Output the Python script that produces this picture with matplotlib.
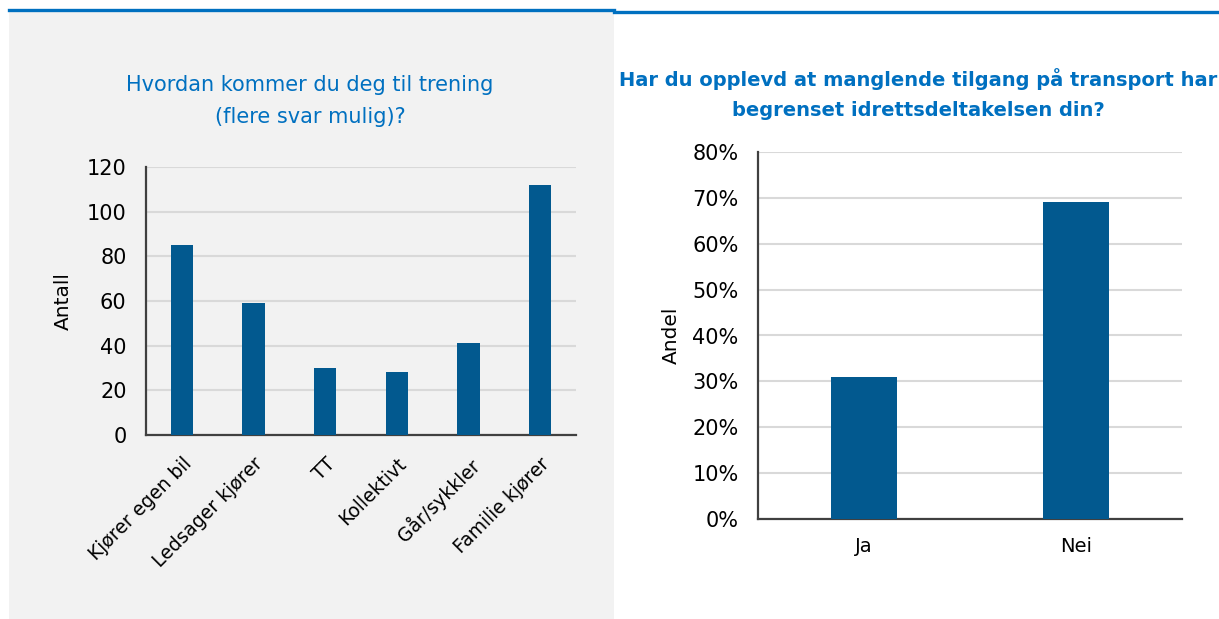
import matplotlib.pyplot as plt
from matplotlib.patches import Rectangle
from matplotlib.lines import Line2D
from matplotlib.ticker import FuncFormatter

# Data
transport_modes = ['Kjører egen bil', 'Ledsager kjører', 'TT', 'Kollektivt', 'Går/sykkler', 'Familie kjører']
transport_counts = [85, 59, 30, 28, 41, 112]

answers = ['Ja', 'Nei']
answer_shares = [31, 69]

left_title = 'Hvordan kommer du deg til trening\n(flere svar mulig)?'
right_title = 'Har du opplevd at manglende tilgang på transport har\nbegrenset idrettsdeltakelsen din?'

BAR = '#02598f'
TITLE_BLUE = '#0070c0'
AXIS = '#404040'
GRID = '#d9d9d9'
PANEL = '#f2f2f2'

plt.rcParams['font.family'] = ['DejaVu Sans']

W, H = 1219, 619
fig = plt.figure(figsize=(W / 100, H / 100), dpi=100)


def fx(px):
    return px / W


def fy(py):
    return 1 - py / H


# grey background behind the left chart, and blue top rules
fig.patches.append(Rectangle((fx(9), 0), fx(614) - fx(9), fy(11), transform=fig.transFigure,
                             facecolor=PANEL, edgecolor='none', zorder=-5))
fig.lines.append(Line2D([fx(9), fx(614)], [fy(9.5), fy(9.5)], transform=fig.transFigure,
                        color=TITLE_BLUE, lw=2.4))
fig.lines.append(Line2D([fx(614), fx(1219)], [fy(11.5), fy(11.5)], transform=fig.transFigure,
                        color=TITLE_BLUE, lw=2.4))


def style_axes(ax):
    ax.set_facecolor('none')
    for s in ['top', 'right']:
        ax.spines[s].set_visible(False)
    for s in ['left', 'bottom']:
        ax.spines[s].set_color(AXIS)
        ax.spines[s].set_linewidth(1.6)
    ax.grid(axis='y', color=GRID, lw=1.5)
    ax.set_axisbelow(True)
    ax.tick_params(axis='both', length=0, labelsize=15, colors='black')
    ax.tick_params(axis='y', pad=14)


# Left chart
ax1 = fig.add_axes([fx(146), fy(435), fx(576) - fx(146), fy(167) - fy(435)])
style_axes(ax1)
x1 = range(len(transport_modes))
ax1.bar(x1, transport_counts, width=0.31, color=BAR, zorder=3)
ax1.set_xlim(-0.5, len(transport_modes) - 0.5)
ax1.set_ylim(0, 120)
ax1.set_yticks(range(0, 121, 20))
ax1.set_xticks(list(x1))
ax1.set_xticklabels(transport_modes, rotation=45, ha='right', va='top',
                    rotation_mode='anchor', fontsize=13.5)
ax1.tick_params(axis='x', pad=14)
ax1.set_ylabel('Antall', fontsize=14.5, labelpad=10)
fig.text(fx(310), fy(101), left_title, ha='center', va='center', fontsize=15,
         color=TITLE_BLUE, linespacing=1.75)

# Right chart
ax2 = fig.add_axes([fx(758), fy(519), fx(1181.6) - fx(758), fy(152) - fy(519)])
style_axes(ax2)
x2 = range(len(answers))
ax2.bar(x2, answer_shares, width=0.31, color=BAR, zorder=3)
ax2.set_xlim(-0.5, len(answers) - 0.5)
ax2.set_ylim(0, 80)
ax2.set_yticks(range(0, 81, 10))
ax2.yaxis.set_major_formatter(FuncFormatter(lambda v, p: f'{v:.0f}%'))
ax2.set_xticks(list(x2))
ax2.set_xticklabels(answers, fontsize=14)
ax2.tick_params(axis='x', pad=13)
ax2.set_ylabel('Andel', fontsize=14.5, labelpad=8)
fig.text(fx(918), fy(94), right_title, ha='center', va='center', fontsize=14,
         color=TITLE_BLUE, fontweight='bold', linespacing=1.75)

fig.savefig('out.png', dpi=100)
